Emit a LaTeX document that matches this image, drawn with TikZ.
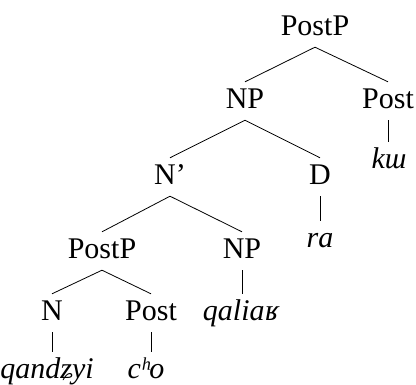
\documentclass[tikz,border=0pt]{standalone}
\usepackage{fontspec}
\setmainfont{Liberation Serif}
\begin{document}
\begin{tikzpicture}[x=1pt,y=-1pt,
  lab/.style={anchor=base,inner sep=0pt,text height=26pt,text depth=12pt,font=\fontsize{30}{36}\selectfont},
  term/.style={lab,font=\fontsize{30}{36}\selectfont\itshape},
  edge/.style={line width=0.8pt}]
\useasboundingbox (0,0) rectangle (416,384);
\node[lab] (top) at (315,35) {PostP};
\node[lab] (np1) at (245,108) {NP};
\node[lab] (post1) at (388,108) {Post};
\node[term] (ku) at (389,168) {kɯ};
\node[lab] (nbar) at (170,184) {N’};
\node[lab] (d) at (320,184) {D};
\node[term] (ra) at (320,247) {ra};
\node[lab] (pp2) at (102,258) {PostP};
\node[lab] (np2) at (242,258) {NP};
\node[term] (qal) at (241,320) {qaliaʁ};
\node[lab] (n) at (52,320) {N};
\node[lab] (post2) at (151,320) {Post};
\node[term] (qan) at (47,378) {qandʑyi};
\node[term] (cho) at (146,378) {cʰo};
\draw[edge] (top.south) -- (np1.north);
\draw[edge] (top.south) -- (post1.north);
\draw[edge] (post1.south) -- (post1.south |- ku.north);
\draw[edge] (np1.south) -- (nbar.north);
\draw[edge] (np1.south) -- (d.north);
\draw[edge] (d.south) -- (d.south |- ra.north);
\draw[edge] (nbar.south) -- (pp2.north);
\draw[edge] (nbar.south) -- (np2.north);
\draw[edge] (np2.south) -- (np2.south |- qal.north);
\draw[edge] (pp2.south) -- (n.north);
\draw[edge] (pp2.south) -- (post2.north);
\draw[edge] (n.south) -- (n.south |- qan.north);
\draw[edge] (post2.south) -- (post2.south |- cho.north);
\end{tikzpicture}
\end{document}
